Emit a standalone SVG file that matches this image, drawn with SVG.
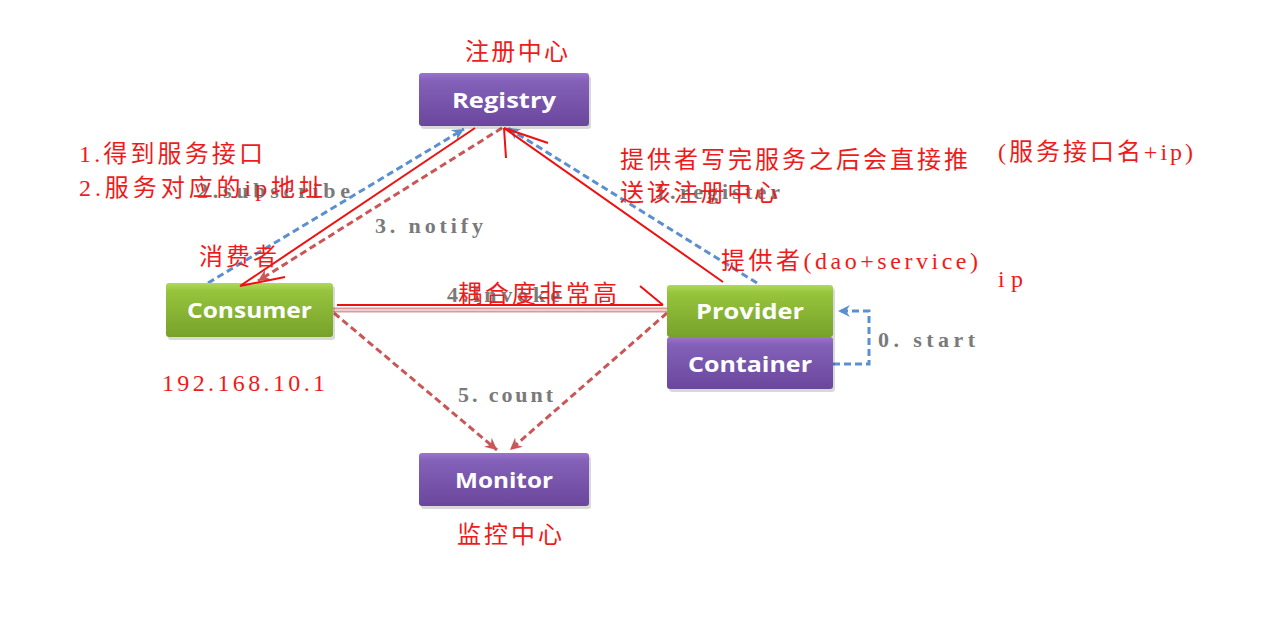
<svg xmlns="http://www.w3.org/2000/svg" width="1268" height="623" viewBox="0 0 1268 623">
<style>
.nodeTxt{font-family:"Open Sans","Liberation Sans",sans-serif;font-weight:bold;font-size:22px;fill:#ffffff;text-anchor:middle}
.red{font-family:"Liberation Serif","Noto Sans CJK SC",serif;font-size:24px;fill:#f01a1a}
.gray{font-family:"Liberation Serif",serif;font-size:22px;fill:#7a7a7a;font-weight:bold}
.blueD{fill:none;stroke:#5b8fd0;stroke-width:3;stroke-dasharray:7 4}
.redD{fill:none;stroke:#c95757;stroke-width:3;stroke-dasharray:7 4}
.ann{fill:none;stroke:#f01010;stroke-width:2}
.shadow{fill:#000;opacity:0.15}
</style>
<defs>
<linearGradient id="gPurple" x1="0" y1="0" x2="0" y2="1">
<stop offset="0" stop-color="#9a74cc"/>
<stop offset="0.15" stop-color="#8361b8"/>
<stop offset="1" stop-color="#6a479c"/>
</linearGradient>
<linearGradient id="gGreen" x1="0" y1="0" x2="0" y2="1">
<stop offset="0" stop-color="#b0d95a"/>
<stop offset="0.15" stop-color="#96c43c"/>
<stop offset="1" stop-color="#76a22a"/>
</linearGradient>
<marker id="mBlue" markerUnits="userSpaceOnUse" markerWidth="16" markerHeight="16" refX="12" refY="6" orient="auto">
<path d="M0,0 L12,6 L0,12 L4,6 Z" fill="#5b8fd0"/>
</marker>
<marker id="mRed" markerUnits="userSpaceOnUse" markerWidth="16" markerHeight="16" refX="12" refY="6" orient="auto">
<path d="M0,0 L12,6 L0,12 L4,6 Z" fill="#c95757"/>
</marker>
</defs>
<rect width="1268" height="623" fill="#ffffff"/>

<g id="connectors">
<path class="blueD" d="M208,283 L464,129" marker-end="url(#mBlue)"/>
<path class="redD" d="M502,128 L258,281" marker-end="url(#mRed)"/>
<path class="blueD" d="M757,283 L508,128" marker-end="url(#mBlue)"/>
<path d="M333,310 L667,310" stroke="#d89a9a" stroke-width="5" fill="none"/>
<path d="M333,310 L667,310" stroke="#f4dede" stroke-width="1.5" fill="none"/>
<path class="redD" d="M334,313 L497,450" marker-end="url(#mRed)"/>
<path class="redD" d="M667,313 L510,450" marker-end="url(#mRed)"/>
<path class="blueD" d="M833,364 H869 V311 H838" marker-end="url(#mBlue)"/>
</g>

<g id="registry">
<rect class="shadow" x="421" y="76" width="170" height="53" rx="3"/>
<rect x="419" y="73" width="170" height="53" rx="3" fill="url(#gPurple)"/>
<text class="nodeTxt" x="504" y="108" textLength="104" lengthAdjust="spacingAndGlyphs">Registry</text>
</g>
<g id="consumer">
<rect class="shadow" x="168" y="286" width="167" height="54" rx="3"/>
<rect x="166" y="283" width="167" height="54" rx="3" fill="url(#gGreen)"/>
<text class="nodeTxt" x="249.5" y="318" textLength="125" lengthAdjust="spacingAndGlyphs">Consumer</text>
</g>
<g id="provider">
<rect class="shadow" x="669" y="288" width="166" height="104" rx="3"/>
<rect x="667" y="285" width="166" height="52" rx="3" fill="url(#gGreen)"/>
<text class="nodeTxt" x="750" y="319" textLength="108" lengthAdjust="spacingAndGlyphs">Provider</text>
</g>
<g id="container">
<rect x="667" y="337" width="166" height="52" rx="3" fill="url(#gPurple)"/>
<text class="nodeTxt" x="750" y="372" textLength="124" lengthAdjust="spacingAndGlyphs">Container</text>
</g>
<g id="monitor">
<rect class="shadow" x="421" y="456" width="170" height="53" rx="3"/>
<rect x="419" y="453" width="170" height="53" rx="3" fill="url(#gPurple)"/>
<text class="nodeTxt" x="504" y="488" textLength="98" lengthAdjust="spacingAndGlyphs">Monitor</text>
</g>

<g id="labels">
<text class="gray" x="197" y="198" textLength="153" lengthAdjust="spacing">2.subscribe</text>
<text class="gray" x="375" y="233" textLength="108" lengthAdjust="spacing">3. notify</text>
<text class="gray" x="655" y="199" textLength="125" lengthAdjust="spacing">1.register</text>
<text class="gray" x="447" y="302" textLength="113" lengthAdjust="spacing">4.invoke</text>
<text class="gray" x="458" y="402" textLength="95" lengthAdjust="spacing">5. count</text>
<text class="gray" x="878" y="347" textLength="97" lengthAdjust="spacing">0. start</text>
</g>

<g id="annotations">
<path class="ann" d="M475,128 L240,286 M240,286 L285,277"/>
<path class="ann" d="M723,282 L504,128 M504,128 L548,143 M504,128 L506,158"/>
<path class="ann" d="M337,305 L663,305 M663,305 L640,286"/>
<text class="red" x="465" y="60" textLength="103" lengthAdjust="spacing">注册中心</text>
<text class="red" x="79" y="162" textLength="184" lengthAdjust="spacing">1.得到服务接口</text>
<text class="red" x="79" y="196" textLength="244" lengthAdjust="spacing">2.服务对应的ip地址</text>
<text class="red" x="199" y="265" textLength="78" lengthAdjust="spacing">消费者</text>
<text class="red" x="620" y="168" textLength="348" lengthAdjust="spacing">提供者写完服务之后会直接推</text>
<text class="red" x="620" y="201" textLength="158" lengthAdjust="spacing">送该注册中心</text>
<text class="red" x="721" y="269" textLength="257" lengthAdjust="spacing">提供者(dao+service)</text>
<text class="red" x="998" y="160" textLength="195" lengthAdjust="spacing">(服务接口名+ip)</text>
<text class="red" x="998" y="287" textLength="25" lengthAdjust="spacing">ip</text>
<text class="red" x="458" y="302" textLength="159" lengthAdjust="spacing">耦合度非常高</text>
<text class="red" x="162" y="391" textLength="163" lengthAdjust="spacing">192.168.10.1</text>
<text class="red" x="457" y="543" textLength="105" lengthAdjust="spacing">监控中心</text>
</g>
</svg>
